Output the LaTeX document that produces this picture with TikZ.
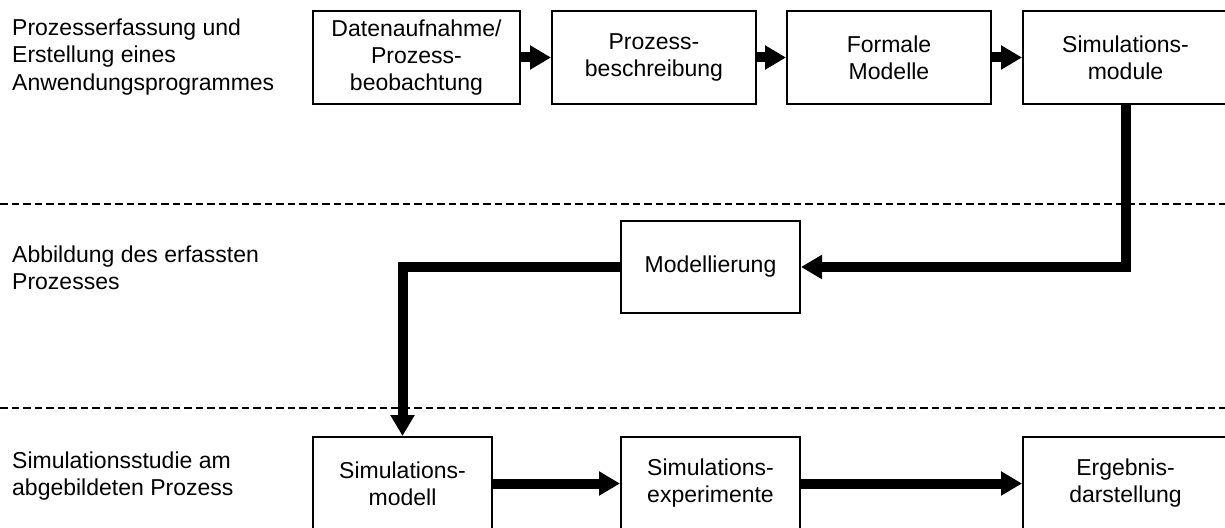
\documentclass[tikz,border=0pt]{standalone}
\usepackage{fontspec}
\setmainfont{Liberation Sans}
\usetikzlibrary{arrows.meta}
\begin{document}
\begin{tikzpicture}[x=1pt,y=-1pt,
  box/.style={draw, line width=2pt, inner sep=0pt, align=center, minimum height=93pt,
    font=\fontsize{23}{27}\selectfont},
  lbl/.style={anchor=north west, inner sep=0pt, align=left, font=\fontsize{23}{27.6}\selectfont},
  conn/.style={line width=10pt, line join=miter, -{Triangle[length=21pt,width=23pt]}},
  sep/.style={line width=2.6pt, dash pattern=on 7.5pt off 4pt}]
\clip (0,0) rectangle (1225,527);
\fill[white] (0,0) rectangle (1225,527);
% lane labels
\node[lbl] (l1) at (12,18.5) {Prozesserfassung und\\Erstellung eines\\Anwendungsprogrammes};
\node[lbl] (l2) at (12,245.5) {Abbildung des erfassten\\Prozesses};
\node[lbl] (l3) at (12,451.5) {Simulationsstudie am\\abgebildeten Prozess};
% separators
\coordinate (s1a) at (0,204); \coordinate (s1b) at (1225,204);
\coordinate (s2a) at (0,408); \coordinate (s2b) at (1225,408);
\draw[sep] (s1a) -- (s1b);
\draw[sep] (s2a) -- (s2b);
% top row
\node[box, minimum width=207pt] (b1) at (416.5,57.5) {Datenaufnahme/\\Prozess-\\beobachtung};
\node[box, minimum width=204pt] (b2) at (654,57.5) {Prozess-\\beschreibung};
\node[box, minimum width=204pt] (b3) at (889,57.5) {Formale\\Modelle};
\node[box, minimum width=205pt] (b4) at (1125.5,57.5) {Simulations-\\module};
% middle
\node[box, minimum width=179pt, minimum height=92pt] (mod) at (710.5,267) {Modellierung};
% bottom row
\node[box, minimum width=179pt] (sm) at (402.5,483.5) {Simulations-\\modell};
\node[box, minimum width=179pt] (se) at (710.5,483.5) {Simulations-\\experimente};
\node[box, minimum width=205pt] (erg) at (1125.5,483.5) {Ergebnis-\\darstellung};
% connectors
\draw[conn] (b1) -- (b2);
\draw[conn] (b2) -- (b3);
\draw[conn] (b3) -- (b4);
\draw[conn] (b4.south) |- (mod.east);
\draw[conn] (mod.west) -| (sm.north);
\draw[conn] (sm) -- (se);
\draw[conn] (se) -- (erg);
\end{tikzpicture}
\end{document}
